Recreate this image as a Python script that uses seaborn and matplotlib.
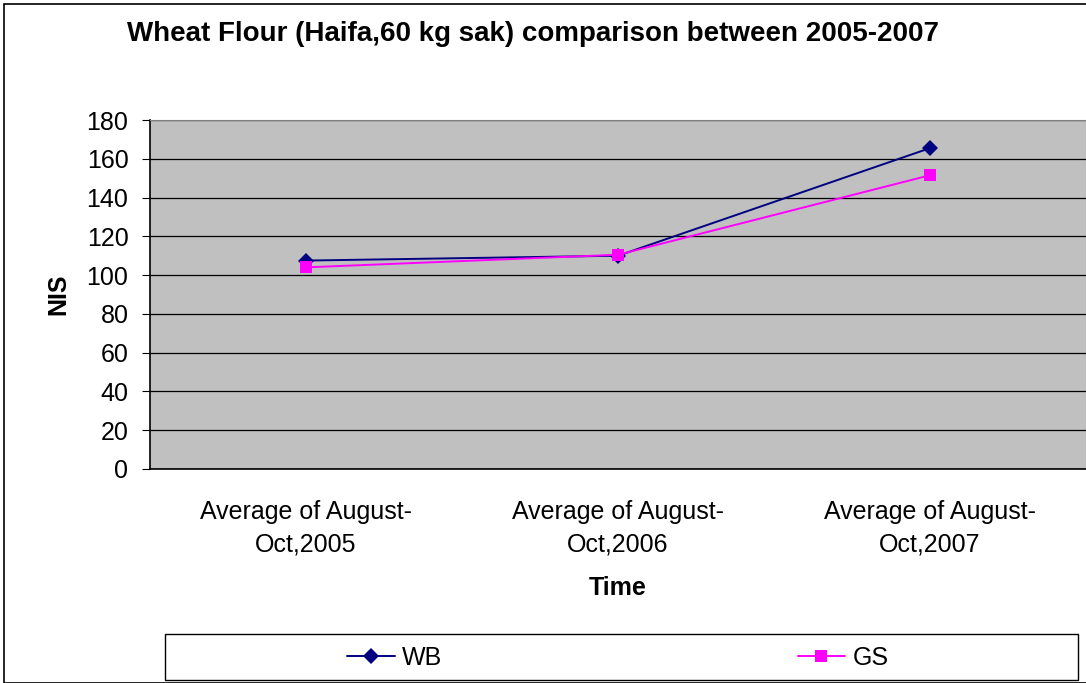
import pandas as pd
import seaborn as sns
import matplotlib.pyplot as plt
from matplotlib.patches import Rectangle

# Data
periods = ['Average of August-\nOct,2005', 'Average of August-\nOct,2006', 'Average of August-\nOct,2007']
wb = [107.5, 110, 165.5]
gs = [104, 110.5, 151.5]

df = pd.DataFrame({
    'pos': list(range(len(periods))) * 2,
    'NIS': wb + gs,
    'region': ['WB'] * len(wb) + ['GS'] * len(gs),
})

sns.set_style('white')
plt.rcParams['font.family'] = ['Liberation Sans', 'DejaVu Sans']
plt.rcParams['text.color'] = 'black'
plt.rcParams['axes.labelcolor'] = 'black'
plt.rcParams['xtick.color'] = 'black'
plt.rcParams['ytick.color'] = 'black'

fig = plt.figure(figsize=(10.86, 6.83), dpi=100)
ax = fig.add_axes([150 / 1086, 1 - 469 / 683, 936 / 1086, 349 / 683])
ax.set_facecolor('#c0c0c0')

sns.lineplot(data=df, x='pos', y='NIS', hue='region', style='region',
             palette={'WB': '#000080', 'GS': '#ff00ff'},
             markers={'WB': 'D', 'GS': 's'}, dashes=False,
             markersize=8, markeredgewidth=0, linewidth=1.4, ax=ax, legend=False)

ax.set_ylim(0, 180)
ax.set_yticks(range(0, 181, 20))
ax.set_xlim(-0.5, 2.5)
ax.set_xticks([-0.5, 0.5, 1.5, 2.5])
ax.set_xticklabels([])
ax.set_xticks(range(len(periods)), minor=True)
ax.set_xticklabels(periods, minor=True, fontsize=18, linespacing=1.47)
ax.tick_params(axis='x', which='minor', length=0, pad=22)
ax.tick_params(axis='x', which='major', length=6, color='#808080', direction='out')
ax.tick_params(axis='y', length=6, labelsize=18, direction='out', left=True, pad=9.5)
ax.grid(axis='y', color='black', linewidth=0.9)
ax.set_axisbelow(True)

for side in ['top', 'right']:
    ax.spines[side].set_color('#808080')
for side in ['left', 'bottom']:
    ax.spines[side].set_color('black')
    ax.spines[side].set_linewidth(1.2)

ax.set_xlabel('Time', fontsize=18, fontweight='bold', labelpad=14)
ax.set_ylabel('NIS', fontsize=18, fontweight='bold', labelpad=12)
fig.text(533 / 1086, 1 - 34 / 683, 'Wheat Flour (Haifa,60 kg sak) comparison between 2005-2007',
         ha='center', va='center', fontsize=20, fontweight='bold', color='black')

# Outer border and legend box
fig.patches.append(Rectangle((4 / 1086, 0), 1.1, 1 - 4 / 683, transform=fig.transFigure,
                             fill=False, edgecolor='black', linewidth=1.2))
fig.patches.append(Rectangle((165 / 1086, 1 - 680 / 683), 913 / 1086, 46 / 683,
                             transform=fig.transFigure, fill=False, edgecolor='black', linewidth=1.0))
handles = [plt.Line2D([], [], color='#000080', marker='D', markersize=8, markeredgewidth=0, linewidth=1.4),
           plt.Line2D([], [], color='#ff00ff', marker='s', markersize=8, markeredgewidth=0, linewidth=1.4)]
fig.legend(handles, ['WB', 'GS'], loc='center', ncol=2, fontsize=18,
           bbox_to_anchor=(618 / 1086, 1 - 658 / 683), frameon=False,
           handlelength=1.9, handletextpad=0.3, columnspacing=14.2)

fig.savefig('out.png', dpi=100)
